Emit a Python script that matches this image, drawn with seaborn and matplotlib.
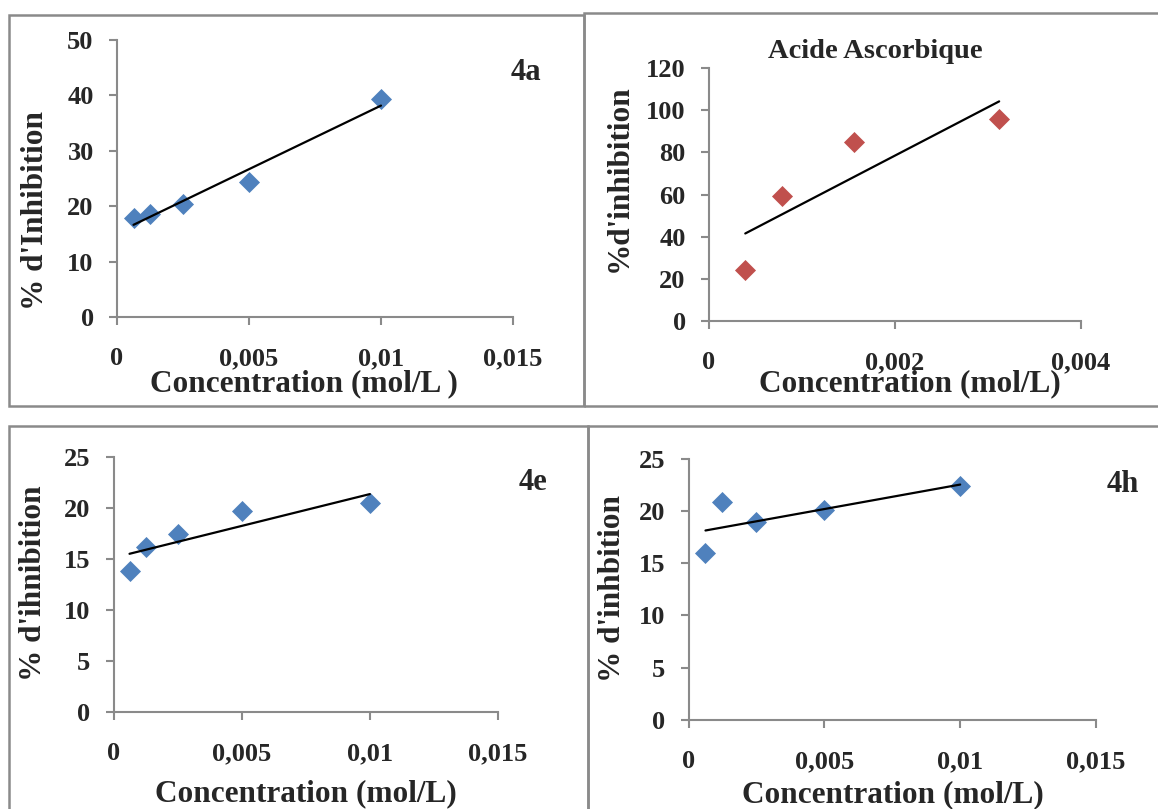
import matplotlib.pyplot as plt
from matplotlib.patches import Rectangle
import seaborn as sns

sns.set_style("ticks")
plt.rcParams["font.family"] = ["Liberation Serif", "DejaVu Serif"]
plt.rcParams["font.weight"] = "bold"

W, H = 1158, 809

# data
conc = [0.000625, 0.00125, 0.0025, 0.005, 0.01]
conc_aa = [0.00039, 0.00078, 0.00156, 0.00312]
inhib_4a = [17.8, 18.6, 20.4, 24.4, 39.3]
inhib_aa = [24.2, 59.5, 85.1, 95.7]
inhib_4e = [13.8, 16.2, 17.5, 19.7, 20.5]
inhib_4h = [16.0, 20.8, 18.9, 20.1, 22.4]

xticks_conc = [0, 0.005, 0.01, 0.015]
xticklabels_conc = ["0", "0,005", "0,01", "0,015"]
xticks_aa = [0, 0.002, 0.004]
xticklabels_aa = ["0", "0,002", "0,004"]
yticks_4a = [0, 10, 20, 30, 40, 50]
yticks_aa = [0, 20, 40, 60, 80, 100, 120]
yticks_low = [0, 5, 10, 15, 20, 25]

BLUE = "#4F81BD"
RED = "#C0504D"
GREY = "#8a8a8a"


def fx(px):
    return px / W


def fy(py):
    return 1 - py / H


def panel(fig, box, x, y, color, xticks, xticklabels, yticks):
    left, top, right, bottom = box
    ax = fig.add_axes([fx(left), fy(bottom), (right - left) / W, (bottom - top) / H])
    sns.regplot(
        x=x, y=y, ax=ax, ci=None, truncate=True, marker="D", color=color,
        scatter_kws=dict(s=115, linewidths=0, alpha=1, zorder=3),
        line_kws=dict(color="black", lw=1.6, zorder=4),
    )
    ax.set_xlim(xticks[0], xticks[-1])
    ax.set_ylim(yticks[0], yticks[-1])
    ax.set_xticks(xticks)
    ax.set_xticklabels(xticklabels)
    ax.set_yticks(yticks)
    ax.set_xlabel("")
    ax.set_ylabel("")
    sns.despine(ax=ax)
    for side in ["left", "bottom"]:
        ax.spines[side].set_color(GREY)
        ax.spines[side].set_linewidth(1.5)
    ax.tick_params(axis="x", direction="out", length=5.5, width=1.5, color=GREY,
                   labelsize=19, pad=16)
    ax.tick_params(axis="y", direction="out", length=5.8, width=1.5, color=GREY,
                   labelsize=19, pad=11)
    ax.patch.set_alpha(0)
    return ax


fig = plt.figure(figsize=(W / 100, H / 100), dpi=100)

# panel frames
for l, t, r, b in [(9, 15, 584, 406), (584, 13, 1162, 406),
                   (9, 426, 588, 815), (588, 426, 1162, 815)]:
    fig.add_artist(Rectangle((fx(l), fy(b)), (r - l) / W, (b - t) / H,
                             transform=fig.transFigure, fill=False,
                             edgecolor=GREY, lw=1.8))

panel(fig, (117, 40, 513, 317), conc, inhib_4a, BLUE,
      xticks_conc, xticklabels_conc, yticks_4a)
panel(fig, (709, 68, 1081, 321), conc_aa, inhib_aa, RED,
      xticks_aa, xticklabels_aa, yticks_aa)
panel(fig, (113.5, 457, 498, 712), conc, inhib_4e, BLUE,
      xticks_conc, xticklabels_conc, yticks_low)
panel(fig, (688.5, 458.5, 1096, 720), conc, inhib_4h, BLUE,
      xticks_conc, xticklabels_conc, yticks_low)

lab = dict(ha="center", va="center", fontsize=22.5, fontweight="bold")
fig.text(fx(304), fy(384), "Concentration (mol/L )", **lab)
fig.text(fx(36), fy(210), "% d'Inhibition", rotation=90, **lab)
fig.text(fx(910), fy(384), "Concentration (mol/L)", **lab)
fig.text(fx(619), fy(178), "%d'inhibition", rotation=90, **lab)
fig.text(fx(306), fy(794), "Concentration (mol/L)", **lab)
fig.text(fx(34), fy(583), "% d'ihnibition", rotation=90, **lab)
fig.text(fx(893), fy(795), "Concentration (mol/L)", **lab)
fig.text(fx(613), fy(588), "% d'inhbition", rotation=90, **lab)

tag = dict(ha="center", va="center", fontsize=22, fontweight="bold")
fig.text(fx(526), fy(72), "4a", **tag)
fig.text(fx(533), fy(483), "4e", **tag)
fig.text(fx(1123), fy(485), "4h", **tag)
fig.text(fx(875), fy(52), "Acide Ascorbique", ha="center", va="center",
         fontsize=20.5, fontweight="bold")

fig.savefig("out.png", dpi=100)
